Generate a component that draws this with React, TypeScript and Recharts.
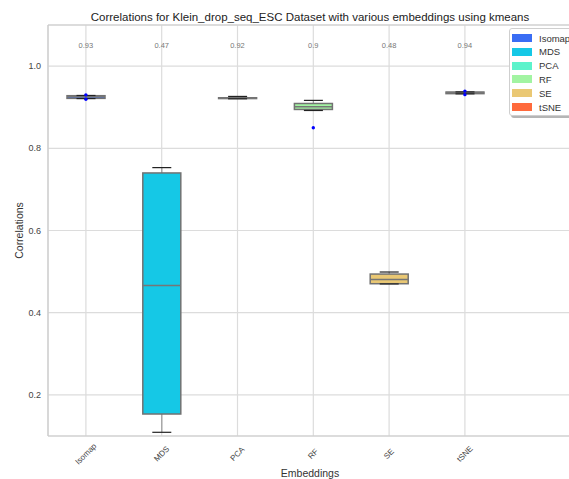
import React from 'react';
import { ComposedChart, Bar, Scatter, XAxis, YAxis, CartesianGrid, ReferenceDot, ReferenceLine } from 'recharts';

// box plot summary per embedding (whisker low, Q1, median, Q3, whisker high)
const EMBEDDINGS = ['Isomap', 'MDS', 'PCA', 'RF', 'SE', 'tSNE'];
const WHISKER_LOW = [0.921, 0.109, 0.9205, 0.892, 0.47, 0.9325];
const Q1 = [0.9215, 0.1535, 0.921, 0.8945, 0.4705, 0.933];
const MEDIAN = [0.9255, 0.466, 0.922, 0.901, 0.481, 0.9355];
const Q3 = [0.928, 0.74, 0.923, 0.909, 0.494, 0.9368];
const WHISKER_HIGH = [0.9285, 0.753, 0.9262, 0.9166, 0.499, 0.9372];
const OUTLIERS_A = [0.93, null, null, 0.85, null, 0.9392];
const OUTLIERS_B = [0.9195, null, null, null, null, 0.9305];
const COLORS = ['#3a6df4', '#15c8e6', '#5cf3cb', '#a2f4a2', '#eac874', '#ff6a3c'];
const Y_TICKS = [0.2, 0.4, 0.6, 0.8, 1.0];

const FONT = '"Liberation Sans", Arial, sans-serif';
const LABEL_Y = 1.05;

const boxData = EMBEDDINGS.map((name, i) => ({
  name,
  low: WHISKER_LOW[i],
  q1: Q1[i],
  median: MEDIAN[i],
  q3: Q3[i],
  high: WHISKER_HIGH[i],
  outA: OUTLIERS_A[i],
  outB: OUTLIERS_B[i],
  color: COLORS[i],
}));

const fmt = (v: number) => String(Number(v.toFixed(2)));

const BoxShape = (props: any) => {
  const { x, y, width, height, payload } = props;
  const { low, high, q1, median, q3, color } = payload;
  const top = Math.min(y, y + height);
  const bottom = Math.max(y, y + height);
  const toY = (v: number) => bottom - (bottom - top) * (v - low) / (high - low);
  const cx = x + width / 2;
  const cap = width / 4;
  return (
    <g>
      <line x1={cx} x2={cx} y1={toY(high)} y2={toY(q3)} stroke="#9a9a9a" strokeWidth={1.2} />
      <line x1={cx} x2={cx} y1={toY(q1)} y2={toY(low)} stroke="#9a9a9a" strokeWidth={1.2} />
      <rect x={x} y={toY(q3)} width={width} height={toY(q1) - toY(q3)} fill={color} stroke="#727272" strokeWidth={1.5} />
      <line x1={x} x2={x + width} y1={toY(median)} y2={toY(median)} stroke="#767676" strokeWidth={1.5} />
      <line x1={cx - cap} x2={cx + cap} y1={toY(high)} y2={toY(high)} stroke="#222" strokeWidth={1.2} />
      <line x1={cx - cap} x2={cx + cap} y1={toY(low)} y2={toY(low)} stroke="#222" strokeWidth={1.2} />
    </g>
  );
};

// fliers: skip categories that have no value for this key
const outlierShape = (key: string) => (p: any) =>
  p.payload && p.payload[key] != null && Number.isFinite(p.cy)
    ? <circle cx={p.cx} cy={p.cy} r={1.7} fill="#0000ff" />
    : <g />;

const AngledTick = (props: any) => {
  const { x, payload } = props;
  const cy = 454;
  return (
    <text x={x} y={cy} transform={`rotate(-45, ${x}, ${cy})`} textAnchor="middle" dominantBaseline="central"
      fontSize={8} fill="#444" fontFamily={FONT}>
      {payload.value}
    </text>
  );
};

const LegendBox = () => (
  <div style={{
    position: 'absolute', left: 509, top: 28, width: 80, height: 86, background: '#fff',
    border: '1px solid #cfcfcf', borderRadius: 3, boxShadow: '2px 2px 0 #b5b5b5', fontFamily: FONT, fontSize: 9.5, color: '#333',
  }}>
    {EMBEDDINGS.map((name, i) => (
      <div key={name} style={{ position: 'absolute', left: 2, top: 3 + i * 13.8, height: 12, display: 'flex', alignItems: 'center' }}>
        <span style={{ display: 'inline-block', width: 20, height: 8, background: COLORS[i], marginRight: 7 }} />
        <span>{name}</span>
      </div>
    ))}
  </div>
);

export default function App() {
  return (
    <div style={{ position: 'fixed', left: 0, top: 0, width: 569, height: 479, overflow: 'hidden', background: '#fff', fontFamily: FONT }}>
      <div style={{ position: 'absolute', left: 0, width: 620, top: 10, textAlign: 'center', fontSize: 11.5, lineHeight: '14px', color: '#222' }}>
        Correlations for Klein_drop_seq_ESC Dataset with various embeddings using kmeans
      </div>
      <ComposedChart width={600} height={479} data={boxData} margin={{ top: 25, right: 0, left: 0, bottom: 0 }} barSize={38}>
        <CartesianGrid stroke="#dcdcdc" strokeWidth={1.2} />
        <XAxis dataKey="name" interval={0} padding={{ left: 0, right: 97.2 }} height={43}
          tickLine={false} axisLine={{ stroke: '#cccccc', strokeWidth: 1.2 }} tick={<AngledTick />} />
        <YAxis type="number" domain={[0.1, 1.1]} ticks={Y_TICKS} allowDataOverflow width={48}
          tickLine={false} tickMargin={1} axisLine={{ stroke: '#cccccc', strokeWidth: 1.2 }}
          tickFormatter={(v: number) => v.toFixed(1)}
          tick={{ fontSize: 9, fill: '#444', fontFamily: FONT }}
          label={{ value: 'Correlations', angle: -90, position: 'insideLeft', offset: 19, style: { textAnchor: 'middle', fontSize: 10.5, fill: '#333', fontFamily: FONT } }} />
        <ReferenceLine y={1.1} stroke="#cccccc" strokeWidth={1.2} />
        <Bar dataKey={(d: any) => [d.low, d.high]} shape={<BoxShape />} isAnimationActive={false} />
        <Scatter dataKey="outA" isAnimationActive={false} shape={outlierShape('outA')} />
        <Scatter dataKey="outB" isAnimationActive={false} shape={outlierShape('outB')} />
        {boxData.map(d => (
          <ReferenceDot key={d.name} x={d.name} y={LABEL_Y} r={1} fill="none" stroke="none"
            label={{ value: fmt(d.median), position: 'center', fontSize: 7.5, fill: '#777', fontFamily: FONT }} />
        ))}
      </ComposedChart>
      <div style={{ position: 'absolute', left: 0, width: 620, top: 467, textAlign: 'center', fontSize: 10.5, color: '#333' }}>
        Embeddings
      </div>
      <LegendBox />
    </div>
  );
}
